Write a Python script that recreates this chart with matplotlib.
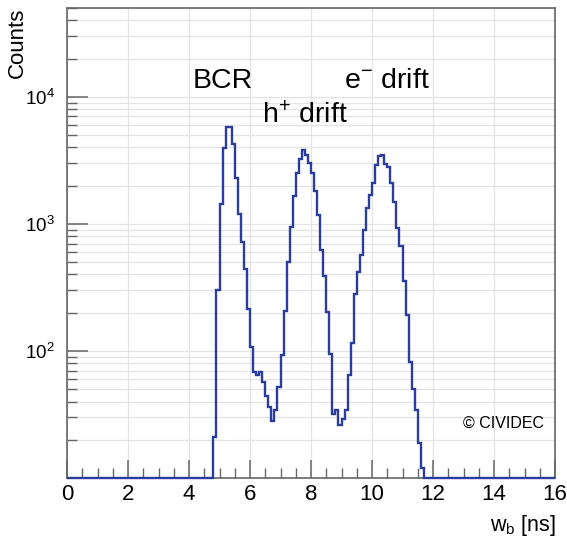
import numpy as np
import matplotlib.pyplot as plt
from matplotlib.ticker import MultipleLocator, LogLocator, NullFormatter

plt.rcParams['font.family'] = ['Liberation Sans', 'DejaVu Sans']
plt.rcParams['mathtext.default'] = 'regular'

# histogram: 160 bins of 0.1 ns between 0 and 16 ns, non-empty from bin 48
n_bins = 160
x_lo, x_hi = 0, 16
first_bin = 48
counts_nonzero = [21, 300, 1430, 3980, 5800, 5800, 4240, 2290, 1190, 725,
                  443, 215, 108, 68, 65, 68, 57, 44, 36, 28,
                  34, 52, 93, 205, 505, 942, 1660, 2510, 3250, 3780,
                  3490, 3040, 2510, 1830, 1180, 624, 390, 204, 95, 32,
                  34, 26, 29, 34, 65, 115, 281, 420, 570, 898,
                  1330, 1700, 2090, 2920, 3430, 3480, 2950, 2800, 2110, 1500,
                  925, 671, 352, 192, 82, 50, 34, 19, 12]
y_lo, y_hi = 10, 5e4

edges = np.linspace(x_lo, x_hi, n_bins + 1)
counts = np.zeros(n_bins)
counts[first_bin:first_bin + len(counts_nonzero)] = counts_nonzero

W, H = 567, 539
fig = plt.figure(figsize=(W / 100, H / 100), dpi=100)
ax = fig.add_axes([67 / W, 1 - 478 / H, (555 - 67) / W, (478 - 8) / H])

# empty bins sit on the bottom of the log axis, like ROOT draws them
ax.stairs(np.maximum(counts, y_lo), edges, baseline=None,
          color='#2a3d9e', linewidth=1.7, clip_on=False, zorder=3)

ax.set_xlim(x_lo, x_hi)
ax.set_yscale('log')
ax.set_ylim(y_lo, y_hi)

ax.xaxis.set_major_locator(MultipleLocator(2))
ax.xaxis.set_minor_locator(MultipleLocator(0.5))
ax.set_yticks([1e2, 1e3, 1e4])
ax.yaxis.set_minor_locator(LogLocator(base=10, subs=np.arange(2, 10), numticks=20))
ax.yaxis.set_minor_formatter(NullFormatter())

ax.grid(True, which='major', axis='x', color='#e4e4e4', linewidth=0.9)
ax.grid(True, which='both', axis='y', color='#e4e4e4', linewidth=0.9)
ax.set_axisbelow(True)

for s in ax.spines.values():
    s.set_color('#666666')
    s.set_linewidth(1.2)

ax.tick_params(axis='x', which='major', direction='in', length=13, width=1.1,
               color='#666666', labelsize=16, pad=4)
ax.tick_params(axis='x', which='minor', direction='in', length=7, width=1.0,
               color='#666666')
ax.tick_params(axis='y', which='major', direction='in', length=15, width=1.1,
               color='#666666', labelsize=13.5, pad=9)
ax.tick_params(axis='y', which='minor', direction='in', length=7, width=1.0,
               color='#666666')

def px(x, y):
    return x / W, 1 - y / H

fig.text(*px(17.5, 8), 'Counts', rotation=90, ha='center', va='top', fontsize=16)
fig.text(*px(556, 531), 'w$_{b}$ [ns]', ha='right', va='baseline', fontsize=15.5)
fig.text(*px(193, 88), 'BCR', ha='left', va='baseline', fontsize=20.5)
fig.text(*px(262, 123), 'h$^{+}$ drift', ha='left', va='baseline', fontsize=20.5)
fig.text(*px(344, 88), 'e$^{-}$ drift', ha='left', va='baseline', fontsize=20.5)
fig.text(*px(463, 428), '\u00a9 CIVIDEC', ha='left', va='baseline', fontsize=11.5)

fig.savefig('out.png', dpi=100)
